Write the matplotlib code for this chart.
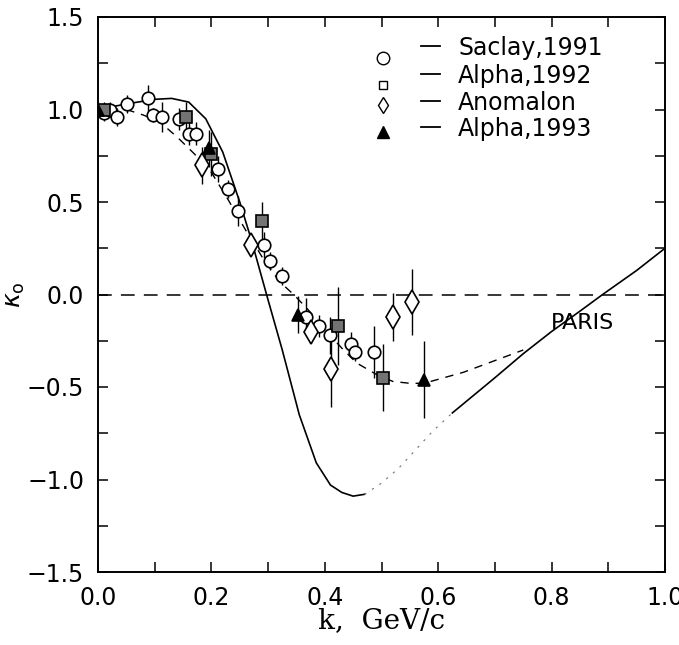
import matplotlib
matplotlib.use('Agg')
import matplotlib.pyplot as plt
from matplotlib.ticker import MultipleLocator

# Saclay 1991 (open circles)
saclay_k = [0.010, 0.022, 0.034, 0.051, 0.088, 0.097, 0.113, 0.143, 0.161, 0.173,
            0.212, 0.230, 0.247, 0.292, 0.304, 0.325, 0.367, 0.389, 0.410, 0.447,
            0.454, 0.486]
saclay_v = [0.98, 1.00, 0.96, 1.03, 1.06, 0.97, 0.96, 0.95, 0.87, 0.87,
            0.68, 0.57, 0.45, 0.27, 0.18, 0.10, -0.12, -0.17, -0.22, -0.27,
            -0.31, -0.31]
saclay_e = [0.04, 0.04, 0.05, 0.05, 0.07, 0.04, 0.08, 0.06, 0.06, 0.06,
            0.07, 0.05, 0.08, 0.07, 0.05, 0.05, 0.10, 0.06, 0.10, 0.07,
            0.05, 0.14]

# Alpha 1992 (squares)
alpha92_k = [0.010, 0.155, 0.200, 0.290, 0.424, 0.502]
alpha92_v = [1.00, 0.96, 0.76, 0.40, -0.17, -0.45]
alpha92_e = [0.04, 0.08, 0.12, 0.10, 0.21, 0.18]

# Anomalon (diamonds)
anom_k = [0.184, 0.270, 0.376, 0.411, 0.520, 0.553]
anom_v = [0.70, 0.27, -0.20, -0.40, -0.12, -0.04]
anom_e = [0.10, 0.05, 0.06, 0.21, 0.13, 0.18]

# Alpha 1993 (filled triangles)
alpha93_k = [0.000, 0.196, 0.352, 0.575]
alpha93_v = [1.00, 0.79, -0.11, -0.46]
alpha93_e = [0.04, 0.10, 0.10, 0.21]

# PARIS potential curve (solid part, faint dotted part, solid part)
paris_k = [0.00, 0.05, 0.10, 0.13, 0.16, 0.19, 0.22, 0.25, 0.27, 0.30,
           0.325, 0.355, 0.385, 0.41, 0.43, 0.45, 0.47]
paris_v = [1.00, 1.03, 1.055, 1.06, 1.04, 0.95, 0.77, 0.50, 0.30, -0.03,
           -0.30, -0.65, -0.91, -1.03, -1.07, -1.09, -1.08]
paris_dot_k = [0.47, 0.50, 0.53, 0.56, 0.59, 0.625]
paris_dot_v = [-1.08, -1.02, -0.94, -0.84, -0.74, -0.64]
paris2_k = [0.625, 0.70, 0.75, 0.80, 0.85, 0.89, 0.95, 1.00]
paris2_v = [-0.64, -0.45, -0.32, -0.20, -0.09, 0.00, 0.13, 0.25]

# dashed fit through the data
fit_k = [0.05, 0.08, 0.11, 0.14, 0.17, 0.20, 0.23, 0.26, 0.29, 0.32, 0.345,
         0.37, 0.40, 0.43, 0.456, 0.49, 0.52, 0.55, 0.575, 0.61, 0.645, 0.68,
         0.715, 0.75]
fit_v = [1.00, 0.97, 0.93, 0.85, 0.76, 0.66, 0.51, 0.35, 0.20, 0.07, 0.00,
         -0.08, -0.19, -0.29, -0.37, -0.43, -0.47, -0.48, -0.48, -0.45, -0.42,
         -0.38, -0.34, -0.30]

fig = plt.figure(figsize=(6.79, 6.45), dpi=100)
ax = fig.add_axes([98 / 679, 1 - 572 / 645, 567 / 679, 555 / 645])

ax.axhline(0.0, color='black', lw=1.1, dashes=(9, 6))
ax.plot(paris_k, paris_v, color='black', lw=1.2)
ax.plot(paris_dot_k, paris_dot_v, color='0.45', lw=0.8, ls=(0, (2, 6)))
ax.plot(paris2_k, paris2_v, color='black', lw=1.2)
ax.plot(fit_k, fit_v, color='black', lw=1.0, dashes=(6, 5))

ekw = dict(ls='none', ecolor='black', elinewidth=1.0, capsize=0, mec='black', mew=1.2)
ax.errorbar(saclay_k, saclay_v, yerr=saclay_e, fmt='o', ms=9, mfc='white', **ekw)
ax.errorbar(alpha92_k, alpha92_v, yerr=alpha92_e, fmt='s', ms=9, mfc='0.45', **ekw)
ax.errorbar(anom_k, anom_v, yerr=anom_e, fmt='d', ms=12, mfc='white', **ekw)
ax.errorbar(alpha93_k, alpha93_v, yerr=alpha93_e, fmt='^', ms=9, mfc='black', **ekw)

ax.set_xlim(0, 1.0)
ax.set_ylim(-1.5, 1.5)
ax.xaxis.set_major_locator(MultipleLocator(0.2))
ax.xaxis.set_minor_locator(MultipleLocator(0.1))
ax.yaxis.set_major_locator(MultipleLocator(0.5))
ax.yaxis.set_minor_locator(MultipleLocator(0.25))
ax.tick_params(which='both', direction='in', top=True, right=True, labelsize=17,
               length=7, width=1.1)
ax.tick_params(axis='x', pad=10)
ax.tick_params(axis='y', pad=10)
ax.xaxis.set_major_formatter(plt.FuncFormatter(lambda v, p: f"{v:.1f}"))
ax.yaxis.set_major_formatter(plt.FuncFormatter(lambda v, p: f"{v:.1f}".replace('-', '\u2212')))
for s in ax.spines.values():
    s.set_linewidth(1.4)

ax.set_xlabel('k,  GeV/c', family='DejaVu Serif', fontsize=20, labelpad=-2)
ax.set_ylabel(r'$\kappa_{\rm o}$', fontsize=18, labelpad=0)

ax.text(0.855, 0.449, 'PARIS', transform=ax.transAxes, fontsize=16,
        ha='center', va='center')

# legend
legend_mark = ['o', 's', 'd', '^']
legend_fill = ['white', 'white', 'white', 'black']
legend_size = [9, 6, 8, 8]
legend_text = ['Saclay,1991', 'Alpha,1992', 'Anomalon', 'Alpha,1993']
text_rows = [0.944, 0.894, 0.845, 0.798]
mark_rows = [0.926, 0.877, 0.841, 0.793]
for m, fc, ms, lab, ty, my in zip(legend_mark, legend_fill, legend_size,
                                  legend_text, text_rows, mark_rows):
    ax.plot([0.503], [my], marker=m, ms=ms, mfc=fc, mec='black', mew=1.0,
            transform=ax.transAxes, ls='none', clip_on=False)
    ax.plot([0.570, 0.603], [ty + 0.003, ty + 0.003], color='black', lw=1.3,
            transform=ax.transAxes)
    ax.text(0.635, ty, lab, transform=ax.transAxes, fontsize=17,
            ha='left', va='center')

fig.savefig('out.png', dpi=100)
